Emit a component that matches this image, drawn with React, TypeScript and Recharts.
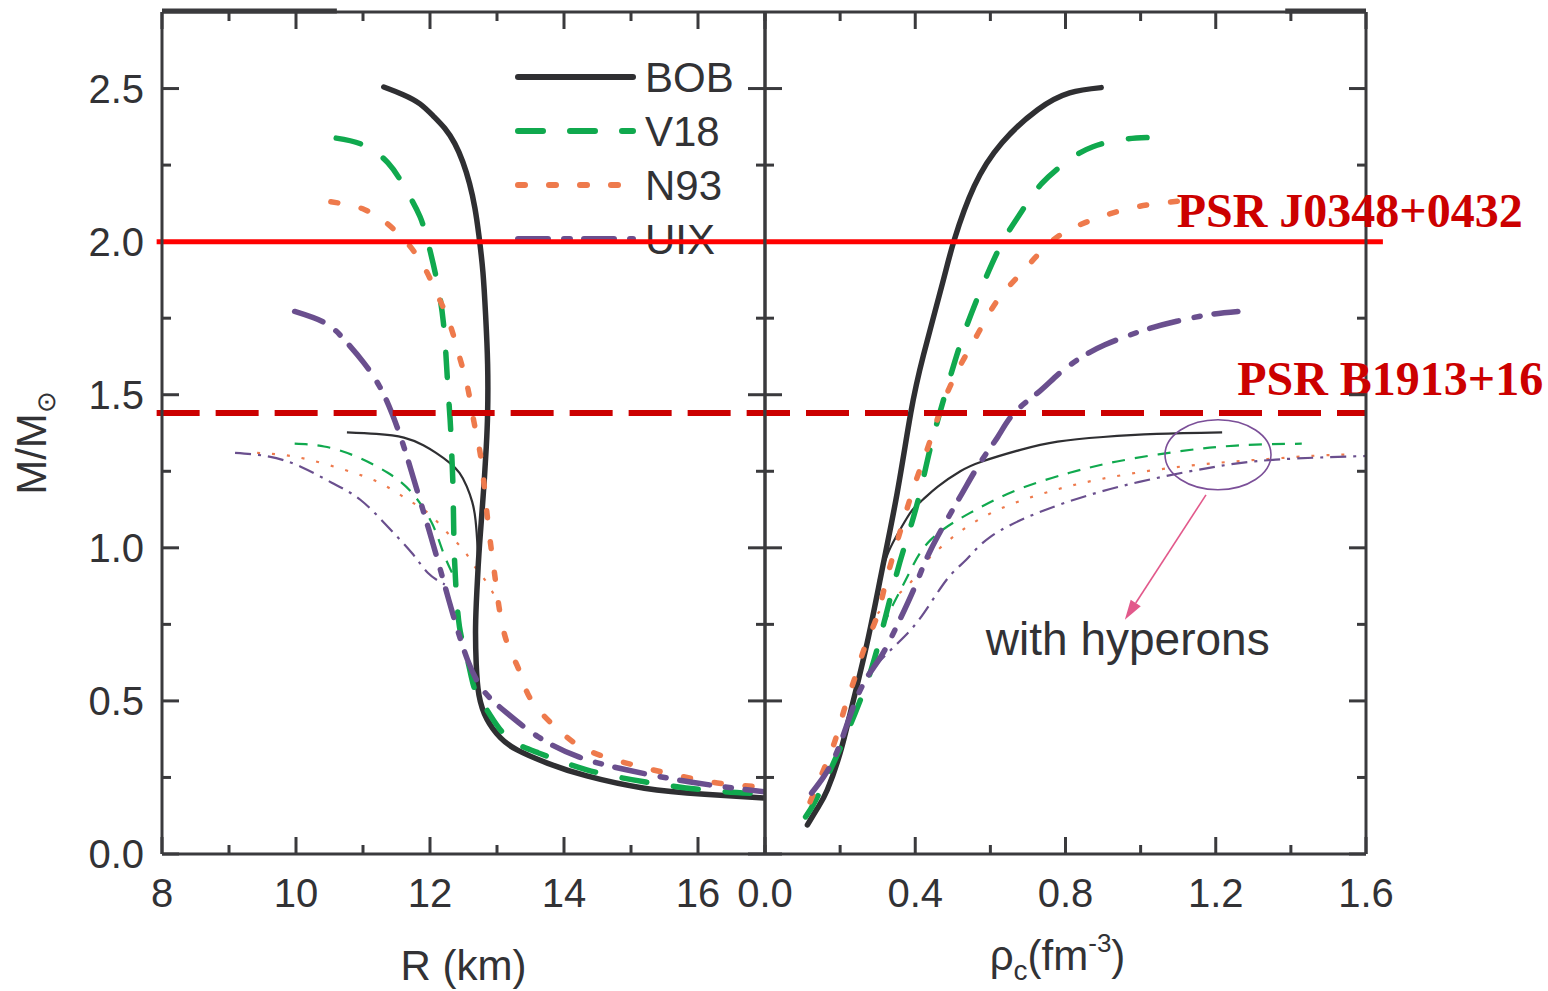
import React from "react";
import { LineChart, Line, XAxis, YAxis, ReferenceLine, ReferenceDot } from "recharts";

// ---- left panel: M vs R (km) ----
const bobR = [11.31, 11.6, 11.85, 12.05, 12.22, 12.37, 12.49, 12.59, 12.67, 12.73, 12.79, 12.83, 12.86, 12.86, 12.84, 12.81, 12.77, 12.73, 12.7, 12.68, 12.69, 12.73, 12.85, 13.05, 13.3, 13.75, 14.34, 15.2, 16.1, 17.0];
const bobM = [2.505, 2.48, 2.45, 2.41, 2.37, 2.32, 2.26, 2.19, 2.11, 2.02, 1.9, 1.76, 1.6, 1.44, 1.33, 1.22, 1.1, 0.98, 0.86, 0.74, 0.62, 0.52, 0.44, 0.38, 0.34, 0.297, 0.255, 0.215, 0.195, 0.183];
const bobHypR = [10.76, 11.2, 11.61, 11.9, 12.09, 12.28, 12.44, 12.55, 12.63, 12.68, 12.71, 12.72];
const bobHypM = [1.377, 1.372, 1.36, 1.335, 1.31, 1.28, 1.245, 1.2, 1.15, 1.09, 1.0, 0.93];

const v18R = [10.6, 10.99, 11.37, 11.64, 11.85, 11.97, 12.09, 12.2, 12.26, 12.3, 12.32, 12.34, 12.35, 12.36, 12.38, 12.44, 12.56, 12.67, 12.85, 13.15, 13.62, 14.34, 15.22, 16.11, 17.0];
const v18M = [2.338, 2.317, 2.258, 2.17, 2.082, 1.997, 1.886, 1.735, 1.55, 1.42, 1.33, 1.22, 1.114, 1.0, 0.9, 0.742, 0.634, 0.536, 0.47, 0.382, 0.33, 0.275, 0.235, 0.209, 0.196];
const v18HypR = [9.98, 10.42, 10.9, 11.37, 11.73, 12.03, 12.2, 12.37];
const v18HypM = [1.34, 1.331, 1.298, 1.245, 1.18, 1.08, 0.983, 0.9];

const n93R = [10.52, 11.02, 11.46, 11.85, 12.11, 12.29, 12.44, 12.56, 12.65, 12.74, 12.8, 12.85, 12.91, 12.97, 13.03, 13.15, 13.33, 13.51, 13.92, 14.34, 14.93, 15.52, 16.29, 17.0];
const n93M = [2.13, 2.105, 2.04, 1.94, 1.827, 1.735, 1.624, 1.526, 1.418, 1.32, 1.222, 1.114, 1.003, 0.905, 0.807, 0.69, 0.6, 0.503, 0.405, 0.34, 0.297, 0.265, 0.232, 0.219];
const n93HypR = [9.42, 9.78, 10.19, 10.72, 11.25, 11.67, 11.97, 12.26, 12.5, 12.67, 12.82, 13.0];
const n93HypM = [1.31, 1.304, 1.288, 1.255, 1.212, 1.157, 1.114, 1.049, 0.993, 0.938, 0.895, 0.83];

const uixR = [9.98, 10.43, 10.72, 11.01, 11.25, 11.43, 11.61, 11.79, 11.97, 12.14, 12.28, 12.4, 12.56, 12.79, 13.15, 13.62, 14.22, 14.93, 15.7, 16.4, 17.0];
const uixM = [1.772, 1.735, 1.68, 1.605, 1.526, 1.44, 1.33, 1.2, 1.069, 0.94, 0.83, 0.74, 0.634, 0.536, 0.46, 0.382, 0.317, 0.275, 0.242, 0.219, 0.203];
const uixHypR = [9.09, 9.6, 10.07, 10.54, 10.96, 11.37, 11.73, 11.97, 12.22];
const uixHypM = [1.31, 1.298, 1.265, 1.212, 1.157, 1.069, 0.983, 0.918, 0.88];

// ---- right panel: M vs central density ----
const bobRho = [0.113, 0.14, 0.166, 0.2, 0.229, 0.272, 0.312, 0.352, 0.388, 0.422, 0.473, 0.504, 0.557, 0.631, 0.726, 0.811, 0.895];
const bobRhoM = [0.095, 0.15, 0.21, 0.33, 0.47, 0.69, 0.93, 1.18, 1.44, 1.63, 1.866, 2.006, 2.181, 2.323, 2.431, 2.486, 2.503];
const bobHypRho = [0.303, 0.33, 0.36, 0.39, 0.42, 0.46, 0.52, 0.578, 0.68, 0.779, 0.9, 1.043, 1.217];
const bobHypRhoM = [0.895, 0.99, 1.06, 1.12, 1.157, 1.2, 1.25, 1.282, 1.32, 1.347, 1.362, 1.372, 1.377];

const v18Rho = [0.108, 0.135, 0.186, 0.24, 0.282, 0.314, 0.351, 0.377, 0.41, 0.441, 0.483, 0.524, 0.567, 0.605, 0.642, 0.684, 0.737, 0.811, 0.873, 0.948, 1.017];
const v18RhoM = [0.121, 0.176, 0.307, 0.46, 0.6, 0.742, 0.918, 1.026, 1.167, 1.33, 1.516, 1.68, 1.82, 1.93, 2.02, 2.1, 2.19, 2.268, 2.31, 2.333, 2.34];
const v18HypRho = [0.314, 0.335, 0.36, 0.388, 0.441, 0.546, 0.673, 0.811, 0.937, 1.096, 1.254, 1.429];
const v18HypRhoM = [0.742, 0.8, 0.86, 0.928, 1.026, 1.114, 1.19, 1.245, 1.282, 1.314, 1.334, 1.34];

const n93Rho = [0.12, 0.156, 0.187, 0.213, 0.24, 0.266, 0.298, 0.32, 0.351, 0.394, 0.425, 0.452, 0.483, 0.524, 0.567, 0.62, 0.69, 0.768, 0.852, 0.937, 1.022, 1.101];
const n93RhoM = [0.17, 0.275, 0.372, 0.48, 0.578, 0.677, 0.775, 0.88, 1.016, 1.19, 1.298, 1.395, 1.5, 1.605, 1.7, 1.81, 1.908, 2.006, 2.062, 2.098, 2.121, 2.132];
const n93HypRho = [0.3, 0.335, 0.377, 0.42, 0.441, 0.515, 0.62, 0.747, 0.884, 1.043, 1.2, 1.339, 1.466, 1.57];
const n93HypRhoM = [0.785, 0.83, 0.873, 0.938, 0.971, 1.049, 1.124, 1.18, 1.222, 1.255, 1.277, 1.29, 1.301, 1.305];

const uixRho = [0.124, 0.156, 0.197, 0.25, 0.303, 0.346, 0.399, 0.441, 0.504, 0.535, 0.578, 0.62, 0.663, 0.726, 0.779, 0.832, 0.905, 1.012, 1.096, 1.18, 1.259];
const uixRhoM = [0.199, 0.252, 0.35, 0.526, 0.634, 0.732, 0.873, 0.993, 1.134, 1.2, 1.288, 1.363, 1.44, 1.506, 1.565, 1.614, 1.663, 1.712, 1.74, 1.761, 1.772];
const uixHypRho = [0.29, 0.346, 0.41, 0.483, 0.535, 0.6, 0.726, 0.884, 1.043, 1.2, 1.36, 1.6];
const uixHypRhoM = [0.61, 0.68, 0.765, 0.895, 0.96, 1.036, 1.114, 1.18, 1.228, 1.265, 1.288, 1.3];

// ticks
const rTicks = [8, 9, 10, 11, 12, 13, 14, 15, 16, 17];
const rMajor = [8, 10, 12, 14, 16];
const rhoTicks = [0, 0.2, 0.4, 0.6, 0.8, 1.0, 1.2, 1.4, 1.6];
const rhoMajor = [0, 0.4, 0.8, 1.2, 1.6];
const mTicks = [0, 0.25, 0.5, 0.75, 1.0, 1.25, 1.5, 1.75, 2.0, 2.25, 2.5];
const mMajor = [0, 0.5, 1.0, 1.5, 2.0, 2.5];

const legendNames = ["BOB", "V18", "N93", "UIX"];
const pulsarMass = [2.0, 1.44];
const pulsarNames = ["PSR J0348+0432", "PSR B1913+16"];

const AXIS = "#3a3a3d";
const TEXT = "#323235";
const SANS = '"Liberation Sans", Arial, Helvetica, sans-serif';
const SERIF = '"Liberation Serif", "Times New Roman", serif';

const styles: Record<string, { color: string; dash?: string; thinDash?: string }> = {
  BOB: { color: "#2f2f32" },
  V18: { color: "#10a94e", dash: "25 27", thinDash: "13 10" },
  N93: { color: "#ee7a4c", dash: "7 24", thinDash: "3 12" },
  UIX: { color: "#6a4f8e", dash: "30 16 6 14", thinDash: "16 7 3 7" },
};

const zip = (xs: number[], ys: number[]) => xs.map((x, i) => ({ x, y: ys[i] }));

const leftSeries = [
  { name: "BOB", thick: zip(bobR, bobM), thin: zip(bobHypR, bobHypM) },
  { name: "V18", thick: zip(v18R, v18M), thin: zip(v18HypR, v18HypM) },
  { name: "N93", thick: zip(n93R, n93M), thin: zip(n93HypR, n93HypM) },
  { name: "UIX", thick: zip(uixR, uixM), thin: zip(uixHypR, uixHypM) },
];
const rightSeries = [
  { name: "BOB", thick: zip(bobRho, bobRhoM), thin: zip(bobHypRho, bobHypRhoM) },
  { name: "V18", thick: zip(v18Rho, v18RhoM), thin: zip(v18HypRho, v18HypRhoM) },
  { name: "N93", thick: zip(n93Rho, n93RhoM), thin: zip(n93HypRho, n93HypRhoM) },
  { name: "UIX", thick: zip(uixRho, uixRhoM), thin: zip(uixHypRho, uixHypRhoM) },
];

const isIn = (arr: number[], v: number) => arr.some((a) => Math.abs(a - v) < 1e-6);

// inward ticks drawn by hand, labels only on major ticks
// (the tick at the 2.0 pulsar line is hidden under the red line in the original)
function makeTick(side: "left" | "right" | "top" | "bottom", majors: number[], fmt?: (v: number) => string) {
  return (props: any) => {
    const { x, y, payload } = props;
    const v = payload.value;
    const major = isIn(majors, v);
    const len = major ? 17 : 9;
    let x2 = x, y2 = y;
    if (side === "left") x2 = x + len;
    if (side === "right") x2 = x - len;
    if (side === "bottom") y2 = y - len;
    if (side === "top") y2 = y + len;
    const hidden = (side === "left" || side === "right") && v === pulsarMass[0];
    return (
      <g>
        {!hidden && <line x1={x} y1={y} x2={x2} y2={y2} stroke={AXIS} strokeWidth={3} />}
        {fmt && major && side === "left" && (
          <text x={x - 18} y={y + 14} textAnchor="end" fontFamily={SANS} fontSize={40} fill={TEXT}>{fmt(v)}</text>
        )}
        {fmt && major && side === "bottom" && (
          <text x={x} y={y + 53} textAnchor="middle" fontFamily={SANS} fontSize={40} fill={TEXT}>{fmt(v)}</text>
        )}
      </g>
    );
  };
}

function renderSeries(series: typeof leftSeries) {
  const out: React.ReactNode[] = [];
  series.forEach((s) => {
    const st = styles[s.name];
    out.push(
      <Line key={s.name + "-thin"} data={s.thin} dataKey="y" type="natural" stroke={st.color}
        strokeWidth={2.2} strokeDasharray={st.thinDash} dot={false} isAnimationActive={false} />
    );
  });
  series.forEach((s) => {
    const st = styles[s.name];
    out.push(
      <Line key={s.name + "-thick"} data={s.thick} dataKey="y" type="natural" stroke={st.color}
        strokeWidth={5.5} strokeDasharray={st.dash} strokeLinecap="round" dot={false} isAnimationActive={false} />
    );
  });
  return out;
}

function Arrow(props: any) {
  const { x1, y1, x2, y2 } = props;
  const a = Math.atan2(y2 - y1, x2 - x1);
  const L = 20, Wd = 6;
  const bx = x2 - L * Math.cos(a), by = y2 - L * Math.sin(a);
  const px = -Math.sin(a) * Wd, py = Math.cos(a) * Wd;
  return (
    <g>
      <line x1={x1} y1={y1} x2={bx} y2={by} stroke="#e2598b" strokeWidth={1.6} />
      <polygon points={`${x2},${y2} ${bx + px},${by + py} ${bx - px},${by - py}`} fill="#e2598b" />
    </g>
  );
}

function LegendBox() {
  const rows = [77, 131, 185, 239];
  return (
    <svg width={780} height={300} style={{ position: "absolute", left: 0, top: 0 }}>
      {legendNames.map((n, i) => {
        const st = styles[n];
        return (
          <g key={n}>
            <line x1={518} x2={633} y1={rows[i]} y2={rows[i]} stroke={st.color} strokeWidth={6}
              strokeDasharray={st.dash} strokeLinecap="round" />
            <text x={645} y={rows[i] + 15} fontFamily={SANS} fontSize={42} fill={TEXT}>{n}</text>
          </g>
        );
      })}
    </svg>
  );
}

export default function App() {
  return (
    <div style={{ position: "absolute", left: 0, top: 0, width: 1548, height: 991, background: "#fff", overflow: "hidden" }}>
      <LegendBox />
      {/* left panel */}
      <div style={{ position: "absolute", left: 0, top: 0 }}>
        <LineChart width={780} height={991} margin={{ top: 2, right: 5, bottom: 7, left: 62 }}>
          <XAxis dataKey="x" type="number" domain={[8, 17]} ticks={rTicks} allowDataOverflow
            height={130} tickSize={0} tickMargin={0} tickLine={false} interval={0}
            axisLine={{ stroke: AXIS, strokeWidth: 3 }} tick={makeTick("bottom", rMajor, (v) => String(v))}
            label={{ content: (p: any) => (
              <text x={p.viewBox.x + p.viewBox.width / 2} y={980} textAnchor="middle" fontFamily={SANS} fontSize={42} fill={TEXT}>R (km)</text>
            ) }} />
          <XAxis xAxisId="top" orientation="top" dataKey="x" type="number" domain={[8, 17]} ticks={rTicks}
            allowDataOverflow height={10} tickSize={0} tickMargin={0} tickLine={false} interval={0}
            axisLine={{ stroke: AXIS, strokeWidth: 3 }} tick={makeTick("top", rMajor)} />
          <YAxis type="number" domain={[0, 2.75]} ticks={mTicks} allowDataOverflow width={100}
            tickSize={0} tickMargin={0} tickLine={false} interval={0}
            axisLine={{ stroke: AXIS, strokeWidth: 3 }} tick={makeTick("left", mMajor, (v) => v.toFixed(1))}
            label={{ content: () => (
              <text transform="translate(46,443) rotate(-90)" textAnchor="middle" fontFamily={SANS} fontSize={42} fill={TEXT}>
                M/M<tspan fontSize={26} dy={9}>⊙</tspan>
              </text>
            ) }} />
          <YAxis yAxisId="right" orientation="right" type="number" domain={[0, 2.75]} ticks={mTicks}
            allowDataOverflow width={10} tickSize={0} tickMargin={0} tickLine={false} interval={0}
            axisLine={{ stroke: AXIS, strokeWidth: 3 }} tick={makeTick("right", mMajor)} />
          {renderSeries(leftSeries)}
          <ReferenceLine segment={[{ x: 8, y: 2.753 }, { x: 10.61, y: 2.753 }]} ifOverflow="visible"
            stroke={AXIS} strokeWidth={5} />
          <ReferenceLine segment={[{ x: 7.92, y: pulsarMass[0] }, { x: 17, y: pulsarMass[0] }]}
            ifOverflow="visible" stroke="#ff0000" strokeWidth={5} />
          <ReferenceLine segment={[{ x: 7.92, y: pulsarMass[1] }, { x: 17, y: pulsarMass[1] }]}
            ifOverflow="visible" stroke="#cc0000" strokeWidth={6} strokeDasharray="43 16" />
        </LineChart>
      </div>
      {/* right panel */}
      <div style={{ position: "absolute", left: 665, top: 0 }}>
        <LineChart width={883} height={991} margin={{ top: 2, right: 172, bottom: 7, left: 0 }}>
          <XAxis dataKey="x" type="number" domain={[0, 1.6]} ticks={rhoTicks} allowDataOverflow
            height={130} tickSize={0} tickMargin={0} tickLine={false} interval={0}
            axisLine={{ stroke: AXIS, strokeWidth: 3 }} tick={makeTick("bottom", rhoMajor, (v) => v.toFixed(1))}
            label={{ content: (p: any) => (
              <text x={p.viewBox.x + p.viewBox.width / 2 - 8} y={970} textAnchor="middle" fontFamily={SANS} fontSize={42} fill={TEXT}>
                ρ<tspan fontSize={28} dy={10}>c</tspan><tspan dy={-10}>(fm</tspan><tspan fontSize={26} dy={-18}>-3</tspan><tspan dy={18}>)</tspan>
              </text>
            ) }} />
          <XAxis xAxisId="top" orientation="top" dataKey="x" type="number" domain={[0, 1.6]} ticks={rhoTicks}
            allowDataOverflow height={10} tickSize={0} tickMargin={0} tickLine={false} interval={0}
            axisLine={{ stroke: AXIS, strokeWidth: 3 }} tick={makeTick("top", rhoMajor)} />
          <YAxis type="number" domain={[0, 2.75]} ticks={mTicks} allowDataOverflow width={100}
            tickSize={0} tickMargin={0} tickLine={false} interval={0}
            axisLine={{ stroke: AXIS, strokeWidth: 3 }} tick={makeTick("left", mMajor)} />
          <YAxis yAxisId="right" orientation="right" type="number" domain={[0, 2.75]} ticks={mTicks}
            allowDataOverflow width={10} tickSize={0} tickMargin={0} tickLine={false} interval={0}
            axisLine={{ stroke: AXIS, strokeWidth: 3 }} tick={makeTick("right", mMajor)} />
          {renderSeries(rightSeries)}
          <ReferenceLine segment={[{ x: 1.385, y: 2.753 }, { x: 1.6, y: 2.753 }]} ifOverflow="visible"
            stroke={AXIS} strokeWidth={5} />
          <ReferenceDot x={1.206} y={1.304} ifOverflow="visible"
            shape={(p: any) => <ellipse cx={p.cx} cy={p.cy} rx={53} ry={35} fill="none" stroke="#7b4f98" strokeWidth={1.6} />} />
          <ReferenceLine segment={[{ x: 1.174, y: 1.173 }, { x: 0.958, y: 0.765 }]} ifOverflow="visible" shape={Arrow} />
          <ReferenceDot x={0.588} y={0.65} ifOverflow="visible"
            shape={(p: any) => <text x={p.cx} y={p.cy} fontFamily={SANS} fontSize={46} fill={TEXT}>with hyperons</text>} />
          <ReferenceLine segment={[{ x: 0, y: pulsarMass[0] }, { x: 1.645, y: pulsarMass[0] }]}
            ifOverflow="visible" stroke="#ff0000" strokeWidth={5} />
          <ReferenceLine segment={[{ x: 0, y: pulsarMass[1] }, { x: 1.6, y: pulsarMass[1] }]}
            ifOverflow="visible" stroke="#cc0000" strokeWidth={6} strokeDasharray="43 16" strokeDashoffset={18} />
          <ReferenceDot x={1.096} y={pulsarMass[0]} ifOverflow="visible"
            shape={(p: any) => <text x={p.cx} y={p.cy - 15} fontFamily={SERIF} fontWeight="bold" fontSize={48} fill="#cc0000">{pulsarNames[0]}</text>} />
          <ReferenceDot x={1.257} y={pulsarMass[1]} ifOverflow="visible"
            shape={(p: any) => <text x={p.cx} y={p.cy - 18} fontFamily={SERIF} fontWeight="bold" fontSize={48} fill="#cc0000">{pulsarNames[1]}</text>} />
        </LineChart>
      </div>
    </div>
  );
}
